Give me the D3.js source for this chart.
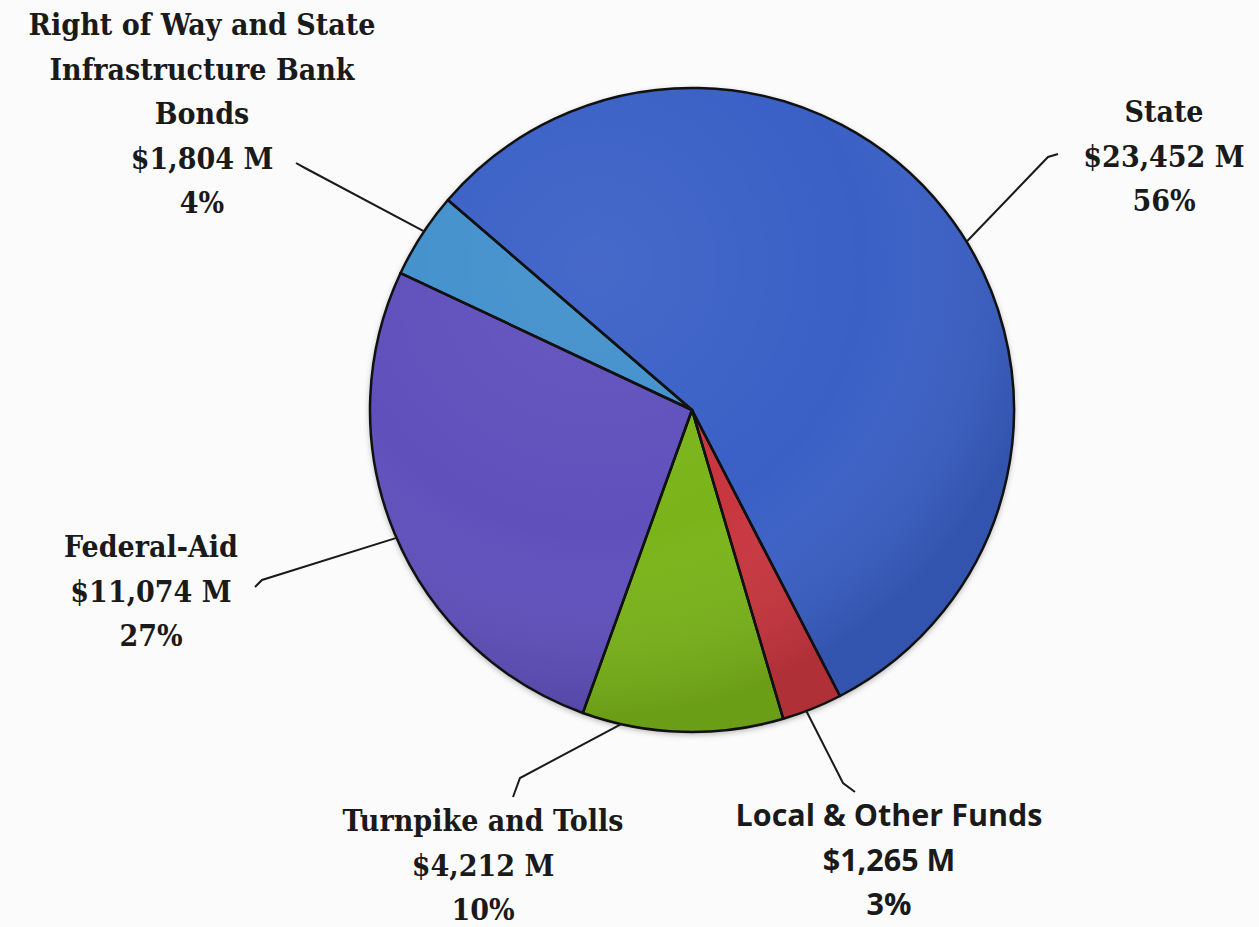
<!DOCTYPE html>
<html lang="en">
<head>
<meta charset="utf-8">
<title>Funding Sources</title>
<style type="text/css">
    html, body { margin: 0; padding: 0; background: #fbfbfb; }
    svg { display: block; }
    .lbl { font-family: "DejaVu Serif Condensed", "DejaVu Serif", serif; font-weight: bold; font-size: 30px; fill: #1a1a1a; }
    .lbl.sans { font-family: "Open Sans", "Noto Sans", sans-serif; font-weight: bold; font-size: 30.5px; }
    .leader { fill: none; stroke: #1a1a1a; stroke-width: 2; }
</style>
</head>
<body>
<script src="https://d3js.org/d3.v7.min.js"></script>
<script>

    // data, clockwise from the State slice
    var categories = ["State", "Local & Other Funds", "Turnpike and Tolls", "Federal-Aid", "Right of Way and State Infrastructure Bank Bonds"];
    var amounts = [23452, 1265, 4212, 11074, 1804];          // $ millions
    var percents = ["56%", "3%", "10%", "27%", "4%"];
    var amountLabels = ["$23,452 M", "$1,265 M", "$4,212 M", "$11,074 M", "$1,804 M"];
    var nameLines = [["State"], ["Local & Other Funds"], ["Turnpike and Tolls"], ["Federal-Aid"], ["Right of Way and State", "Infrastructure Bank", "Bonds"]];
    var colors = ["#3a60c6", "#c8363f", "#7ab41a", "#5f50bc", "#4290cc"];

    var width = 1259, height = 927;
    var cx = 692, cy = 410, radius = 322;
    var startDeg = -49.3;
    var lineH = 44.5;

    // label layout: text centre x, first baseline y, leader anchor angle (deg), leader elbow + end
    var layout = [
        {x: 1164, y: 122, anchor: 58.5, pts: [[1048, 157], [1058, 154]], sans: false},
        {x: 889, y: 826, anchor: 159.2, pts: [[843, 783], [855, 792]], sans: true},
        {x: 483, y: 831, anchor: 192.7, pts: [[520, 778], [513, 797]], sans: false},
        {x: 151, y: 557, anchor: 246.6, pts: [[262, 580], [255, 587]], sans: false},
        {x: 202, y: 35, anchor: -56.3, pts: [[305, 168], [296, 163]], sans: false}
    ];

    var svg = d3.select("body").append("svg")
        .attr("width", width)
        .attr("height", height);

    svg.append("rect").attr("width", width).attr("height", height).attr("fill", "#fbfbfb");

    var defs = svg.append("defs");
    var shadow = defs.append("filter").attr("id", "shadow")
        .attr("x", "-10%").attr("y", "-10%").attr("width", "120%").attr("height", "120%");
    shadow.append("feDropShadow").attr("dx", 0).attr("dy", 2).attr("stdDeviation", 3)
        .attr("flood-color", "#000").attr("flood-opacity", 0.35);

    var shade = defs.append("radialGradient").attr("id", "shade")
        .attr("gradientUnits", "userSpaceOnUse")
        .attr("cx", cx - radius * 0.3).attr("cy", cy - radius * 0.45).attr("r", radius * 1.4);
    shade.append("stop").attr("offset", "0%").attr("stop-color", "#fff").attr("stop-opacity", 0.06);
    shade.append("stop").attr("offset", "60%").attr("stop-color", "#fff").attr("stop-opacity", 0);
    shade.append("stop").attr("offset", "100%").attr("stop-color", "#000").attr("stop-opacity", 0.12);

    var pie = d3.pie()
        .sort(null)
        .value(function(d){ return d; })
        .startAngle(startDeg * Math.PI / 180)
        .endAngle((startDeg + 360) * Math.PI / 180);

    var arc = d3.arc().innerRadius(0).outerRadius(radius);

    var arcs = pie(amounts);

    var g = svg.append("g")
        .attr("transform", "translate(" + cx + "," + cy + ")");

    g.append("circle").attr("r", radius).attr("fill", "#333").attr("filter", "url(#shadow)");

    g.selectAll("path.slice")
        .data(arcs)
        .enter()
        .append("path")
        .attr("class", "slice")
        .attr("d", arc)
        .attr("fill", function(d, i){ return colors[i]; });

    g.append("circle").attr("r", radius)
        .attr("transform", "translate(" + (-cx) + "," + (-cy) + ")")
        .attr("cx", cx).attr("cy", cy)
        .attr("fill", "url(#shade)");

    g.selectAll("path.edge")
        .data(arcs)
        .enter()
        .append("path")
        .attr("class", "edge")
        .attr("d", arc)
        .attr("fill", "none")
        .attr("stroke", "#111")
        .attr("stroke-width", 2.5)
        .attr("stroke-linejoin", "round");

    // leaders
    var line = d3.line();
    layout.forEach(function(l, i){
        var a = l.anchor * Math.PI / 180;
        var rim = [cx + Math.sin(a) * radius, cy - Math.cos(a) * radius];
        svg.append("path")
            .attr("class", "leader")
            .attr("d", line([rim].concat(l.pts)));

        var lines = nameLines[i].concat([amountLabels[i], percents[i]]);
        var t = svg.append("text")
            .attr("class", l.sans ? "lbl sans" : "lbl")
            .attr("text-anchor", "middle");
        lines.forEach(function(s, k){
            t.append("tspan")
                .attr("x", l.x)
                .attr("y", l.y + k * lineH)
                .text(s);
        });
    });

</script>
</body>
</html>
